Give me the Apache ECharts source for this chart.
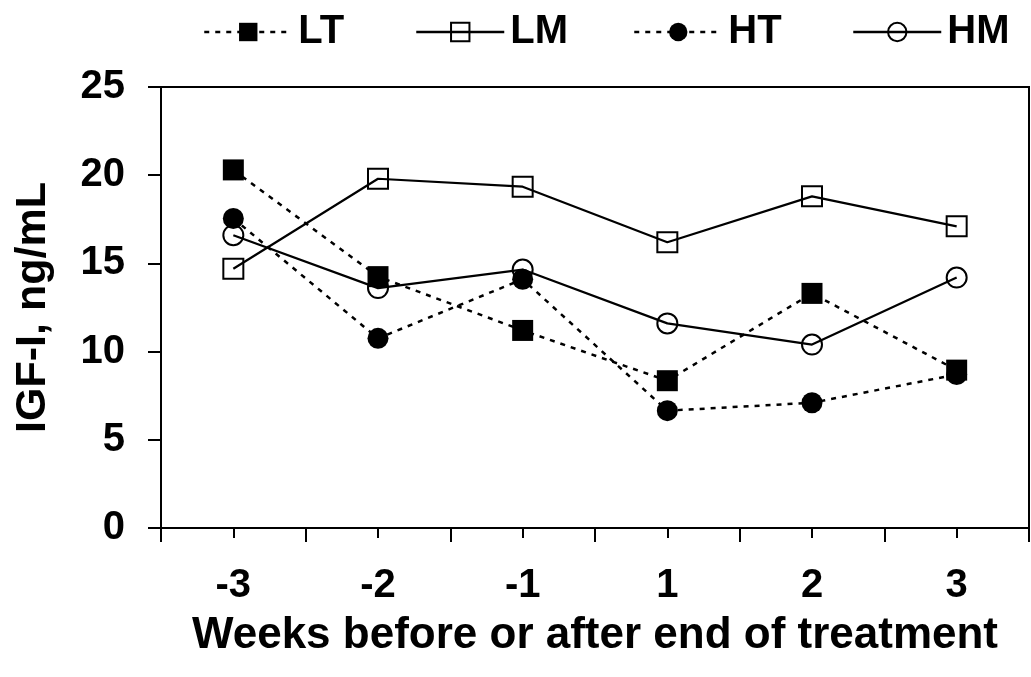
<!DOCTYPE html>
<html>
<head>
<meta charset="utf-8">
<script src="https://cdn.jsdelivr.net/npm/echarts@6/dist/echarts.min.js"></script>
<style>
html,body{margin:0;padding:0;background:#fff;}
#chart{width:1031px;height:677px;}
</style>
</head>
<body>
<div id="chart"></div>
<script>
var categories = ['-3', '-2', '-1', '1', '2', '3'];
var seriesNames = ['LT', 'LM', 'HT', 'HM'];
var LT = [20.3, 14.25, 11.2, 8.35, 13.3, 8.95];
var LM = [14.7, 19.8, 19.35, 16.2, 18.8, 17.1];
var HT = [17.55, 10.75, 14.1, 6.65, 7.1, 8.7];
var HM = [16.6, 13.6, 14.65, 11.6, 10.4, 14.2];
var yTicks = [0, 5, 10, 15, 20, 25];

var FONT = '"Liberation Sans", Arial, sans-serif';
var chart = echarts.init(document.getElementById('chart'), null, {renderer: 'canvas'});

function mkSeries(name, data, symbol, filled, dashed) {
  return {
    name: name,
    type: 'line',
    xAxisIndex: 0,
    data: data,
    symbol: symbol,
    symbolSize: filled ? 21 : 20,
    showAllSymbol: true,
    lineStyle: {color: '#000', width: dashed ? 2.5 : 2.2, type: dashed ? [5, 6] : 'solid'},
    itemStyle: filled ? {color: '#000', borderColor: '#000', borderWidth: 0}
                      : {color: 'rgba(255,255,255,0)', borderColor: '#000', borderWidth: 2},
    emphasis: {disabled: true},
    animation: false
  };
}

function mkLegend(name, left) {
  return {
    data: [name],
    left: left,
    top: 7,
    itemWidth: 88,
    itemHeight: 23,
    itemGap: 0,
    selectedMode: false,
    lineStyle: {width: 2.5},
    textStyle: {fontFamily: FONT, fontWeight: 'bold', fontSize: 40, color: '#000', padding: [0, 0, 0, 1]}
  };
}

var option = {
  backgroundColor: '#fff',
  animation: false,
  legend: [mkLegend('LT', 198), mkLegend('LM', 410), mkLegend('HT', 628), mkLegend('HM', 847)],
  grid: {left: 161, right: 2, top: 87, bottom: 149, show: true, borderColor: '#000', borderWidth: 2, containLabel: false},
  xAxis: [{
    type: 'category',
    data: categories,
    boundaryGap: true,
    position: 'bottom',
    axisLine: {show: true, lineStyle: {color: '#000', width: 2}},
    axisTick: {show: true, inside: false, length: 14, lineStyle: {color: '#000', width: 2}},
    axisLabel: {show: true, fontFamily: FONT, fontWeight: 'bold', fontSize: 40, color: '#000', margin: 38},
    splitLine: {show: false},
    name: 'Weeks before or after end of treatment',
    nameLocation: 'middle',
    nameGap: 86,
    nameTextStyle: {fontFamily: FONT, fontWeight: 'bold', fontSize: 44, color: '#000'}
  }, {
    type: 'category',
    data: categories,
    boundaryGap: true,
    position: 'bottom',
    axisLine: {show: false},
    axisTick: {show: true, alignWithLabel: true, inside: false, length: 10, lineStyle: {color: '#000', width: 2}},
    axisLabel: {show: false},
    splitLine: {show: false}
  }],
  yAxis: {
    type: 'value',
    min: yTicks[0],
    max: yTicks[yTicks.length - 1],
    interval: 5,
    axisLine: {show: true, lineStyle: {color: '#000', width: 2}},
    axisTick: {show: true, inside: false, length: 13, lineStyle: {color: '#000', width: 2}},
    axisLabel: {fontFamily: FONT, fontWeight: 'bold', fontSize: 40, color: '#000', margin: 36},
    splitLine: {show: false},
    name: 'IGF-I, ng/mL',
    nameLocation: 'middle',
    nameRotate: 90,
    nameGap: 106,
    nameTextStyle: {fontFamily: FONT, fontWeight: 'bold', fontSize: 43, color: '#000'}
  },
  series: [
    mkSeries('LT', LT, 'rect', true, true),
    mkSeries('LM', LM, 'rect', false, false),
    mkSeries('HT', HT, 'circle', true, true),
    mkSeries('HM', HM, 'circle', false, false)
  ]
};
chart.setOption(option);
</script>
</body>
</html>
